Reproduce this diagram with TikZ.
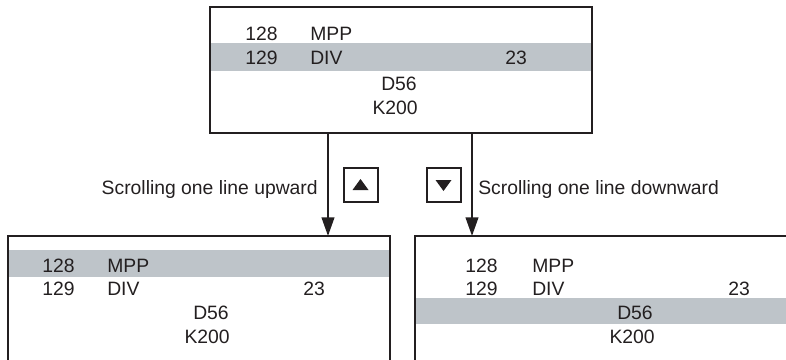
\documentclass[tikz,border=0pt]{standalone}
\usepackage{fontspec}
\setmainfont{Liberation Sans}
\usetikzlibrary{arrows.meta}
\definecolor{bandgrey}{RGB}{190,196,201}
\definecolor{inkline}{RGB}{35,31,32}

\begin{document}
\begin{tikzpicture}[x=0.75pt, y=-0.75pt, >={Triangle[length=14pt,width=9.5pt]},
    screen/.style={draw=inkline, line width=2pt, minimum width=286.5pt, minimum height=94.5pt,
                   inner sep=0pt, outer sep=0pt, anchor=north west},
    txt/.style={inner sep=0pt, font=\fontsize{14.5}{17}\selectfont, text=inkline},
    keybox/.style={draw=inkline, line width=1.5pt, minimum size=25.5pt, inner sep=0pt, outer sep=0pt}]

    \clip (0,0) rectangle (786,360);

    % =================================================================
    % MAN HINH TREN: DONG 129 DANG CHON
    % =================================================================
    \fill[bandgrey] (210,43) rectangle (592,71);
    \node[screen] (top) at (210,7) {};
    \node[txt, anchor=base west] (top128) at (245,41) {128};
    \node[txt, anchor=base west] (topmpp) at (310,41) {MPP};
    \node[txt, anchor=base west] (top129) at (245,65) {129};
    \node[txt, anchor=base west] (topdiv) at (310,65) {DIV};
    \node[txt, anchor=base west] (top23) at (505,65) {23};
    \node[txt, anchor=base east] (topd56) at (417,91) {D56};
    \node[txt, anchor=base east] (topk200) at (418,115) {K200};

    % =================================================================
    % MAN HINH DUOI TRAI: LEN MOT DONG
    % =================================================================
    \fill[bandgrey] (8,250) rectangle (390,277);
    \node[screen] (left) at (8,236) {};
    \node[txt, anchor=base west] (left128) at (42,272) {128};
    \node[txt, anchor=base west] (leftmpp) at (107,272) {MPP};
    \node[txt, anchor=base west] (left129) at (42,295) {129};
    \node[txt, anchor=base west] (leftdiv) at (107,295) {DIV};
    \node[txt, anchor=base west] (left23) at (303,295) {23};
    \node[txt, anchor=base east] (leftd56) at (229,319) {D56};
    \node[txt, anchor=base east] (leftk200) at (230,343) {K200};

    % =================================================================
    % MAN HINH DUOI PHAI: XUONG MOT DONG
    % =================================================================
    \fill[bandgrey] (415,298) rectangle (797,324);
    \node[screen] (right) at (415,236) {};
    \node[txt, anchor=base west] (right128) at (465,272) {128};
    \node[txt, anchor=base west] (rightmpp) at (532,272) {MPP};
    \node[txt, anchor=base west] (right129) at (465,295) {129};
    \node[txt, anchor=base west] (rightdiv) at (532,295) {DIV};
    \node[txt, anchor=base west] (right23) at (728,295) {23};
    \node[txt, anchor=base east] (rightd56) at (653,319) {D56};
    \node[txt, anchor=base east] (rightk200) at (655,343) {K200};

    % Mui ten chuyen man hinh
    \coordinate (upx) at (328,0);
    \coordinate (downx) at (472,0);
    \draw[->, line width=1.5pt, inkline] (top.south -| upx) -- (left.north -| upx);
    \draw[->, line width=1.5pt, inkline] (top.south -| downx) -- (right.north -| downx);

    % Phim bam va chu thich
    \node[keybox] (upkey) at (360.5,185) {};
    \fill[inkline] ([shift={(-8,5)}]upkey.center) -- ++(16,0) -- ++(-8,-11) -- cycle;
    \node[keybox] (downkey) at (443.5,185) {};
    \fill[inkline] ([shift={(-8,-5)}]downkey.center) -- ++(16,0) -- ++(-8,11) -- cycle;

    \node[txt, anchor=base east] (uplabel) at (318,194) {Scrolling one line upward};
    \node[txt, anchor=base west] (downlabel) at (478,194) {Scrolling one line downward};

\end{tikzpicture}
\end{document}
